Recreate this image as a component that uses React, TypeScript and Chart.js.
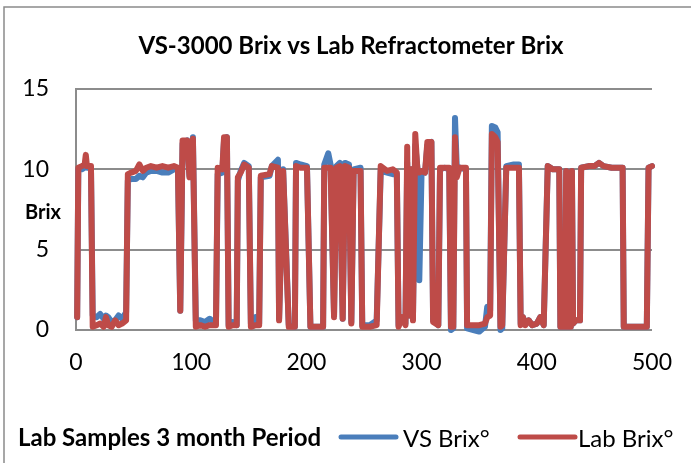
import { useEffect, useRef } from "react";
import { Chart, registerables } from "chart.js";

Chart.register(...registerables);

// Sample number (x) at each reading breakpoint
const sampleIndex = [
  1, 2, 5, 7.5, 8.5, 9.5, 13, 14.5, 18, 21, 24, 26, 28, 31, 34, 37, 40, 43.5,
  45, 48, 52, 55, 58, 61, 65, 70, 75, 80, 85, 88.5, 90.5, 92.5, 96.5, 98.5, 101.5,
  104, 108, 112, 116, 121.5, 123, 127, 128.5, 131, 132.5, 136, 139.5, 140.5, 143,
  146, 150, 151.8, 156, 159, 160.4, 168, 170, 175.3, 176.3, 179.8, 184.7, 190,
  191, 195, 200.5, 203.5, 214.5, 215.5, 219, 221, 224, 226, 229, 231.5, 233.5,
  237, 239, 241, 247, 248.5, 255, 261, 264.5, 270, 275, 278.5, 280, 283, 286,
  287.5, 289, 291, 292.5, 294.5, 296.5, 298, 300, 303, 305, 308.5, 310, 314.5,
  316, 320, 324, 325.5, 327.5, 329, 330.5, 333, 338.5, 339.5, 345, 350, 355, 357,
  359.5, 361, 364, 366, 368.5, 370, 373.5, 380, 384.5, 386, 388, 390, 393, 396,
  400, 403, 406, 409.5, 414, 419.5, 420.5, 424.5, 425.5, 426.5, 429.5, 430.5,
  431.5, 434, 437.5, 438.5, 445, 450, 454, 458, 465, 474.5, 475.5, 495.5, 497, 500,
];

// VS-3000 inline Brix readings
const vsBrix = [
  0.8, 10.0, 10.0, 10.1, 10.3, 10.1, 10.1, 0.9, 0.8, 1.0, 0.7, 0.9, 0.8, 0.5, 0.6, 0.9, 0.7, 1.1,
  9.3, 9.4, 9.4, 9.6, 9.5, 9.8, 9.9, 9.9, 9.8, 9.8, 10.0, 10.0, 1.2, 11.6, 11.8, 9.6, 12.0,
  0.6, 0.6, 0.5, 0.7, 0.4, 9.7, 9.8, 11.8, 12.0, 0.3, 0.5, 0.3, 9.3, 9.9,
  10.4, 10.2, 0.4, 0.8, 0.4, 9.5, 9.6, 10.2, 10.6, 0.7, 10.0, 0.3, 0.2,
  10.4, 10.3, 10.2, 0.2, 0.2, 10.3, 11.0, 10.3, 0.9, 10.2, 10.4, 0.7, 10.4,
  10.3, 0.5, 10.0, 10.1, 0.3, 0.3, 0.6, 9.9, 9.8, 9.7, 9.7, 0.3, 0.7, 0.4,
  10.4, 0.9, 10.0, 0.7, 11.5, 10.0, 3.1, 9.9, 9.8, 11.5, 11.7, 0.6, 0.3,
  10.0, 10.1, 10.0, 0.0, 0.1, 13.2, 10.2, 10.1, 10.0, 0.1, 0.0, -0.1, 0.2, 1.45,
  1.2, 12.7, 12.6, 12.3, 0.0, 0.1, 10.2, 10.3, 10.3, 0.4, 0.8, 0.4, 0.6, 0.3,
  0.4, 0.8, 0.3, 10.2, 10.0, 10.0, 0.2, 0.2, 9.9, 0.2, 0.2, 9.9,
  0.4, 0.6, 0.6, 10.1, 10.2, 10.2, 10.4, 10.2, 10.1, 10.1, 0.2, 0.2, 10.1, 10.2,
];

// Lab refractometer Brix readings
const labBrix = [
  0.8, 10.1, 10.2, 10.3, 10.9, 10.2, 10.2, 0.2, 0.3, 0.4, 0.2, 0.8, 0.3, 0.2, 0.6, 0.3, 0.4, 0.6,
  9.7, 9.8, 9.9, 10.3, 9.9, 10.1, 10.2, 10.1, 10.2, 10.1, 10.2, 10.1, 1.2, 11.8, 11.8, 9.5, 11.9,
  0.2, 0.3, 0.2, 0.3, 0.3, 10.1, 10.0, 12.0, 12.0, 0.2, 0.3, 0.3, 9.5, 9.8,
  10.3, 10.1, 0.2, 0.3, 0.3, 9.6, 9.7, 10.2, 10.1, 0.6, 9.9, 0.2, 0.2,
  10.2, 10.1, 10.1, 0.2, 0.2, 10.1, 10.1, 10.1, 0.8, 10.1, 10.2, 0.7, 10.2,
  10.1, 0.4, 9.9, 9.9, 0.2, 0.2, 0.3, 10.2, 9.9, 10.0, 9.8, 0.2, 0.8, 0.3,
  11.4, 0.9, 10.0, 0.6, 12.2, 9.8, 9.8, 9.9, 9.8, 11.7, 11.7, 0.5, 0.3,
  10.1, 10.1, 10.1, 0.2, 0.2, 12.0, 9.5, 10.1, 10.1, 0.3, 0.3, 0.3, 0.4, 0.8,
  0.9, 12.2, 12.0, 11.7, 0.2, 0.3, 10.1, 10.1, 10.1, 0.3, 0.8, 0.3, 0.6, 0.3,
  0.4, 0.8, 0.3, 10.2, 10.0, 10.0, 0.2, 0.2, 9.9, 0.2, 0.2, 9.9,
  0.4, 0.6, 0.6, 10.1, 10.2, 10.2, 10.4, 10.2, 10.1, 10.1, 0.2, 0.2, 10.1, 10.2,
];

const seriesNames = ["VS Brix°", "Lab Brix°"];
const seriesColors = ["#4A7EBB", "#BE4B48"];
const chartTitle = "VS-3000 Brix vs Lab Refractometer Brix";
const yAxisTitle = "Brix";
const xAxisTitle = "Lab Samples 3 month Period";

const FONT = "Lato, 'Liberation Sans', sans-serif";
const GRID = "#8c8c8c";

const decor = {
  id: "decor",
  afterDraw(chart: any) {
    const ctx = chart.ctx as CanvasRenderingContext2D;
    ctx.save();
    // outer chart border
    ctx.strokeStyle = "#8a8a8a";
    ctx.lineWidth = 1.5;
    ctx.strokeRect(4, 7, 900, 900);
    ctx.fillStyle = "#000";
    ctx.textBaseline = "middle";
    // title
    ctx.font = `bold 24px ${FONT}`;
    ctx.textAlign = "center";
    ctx.fillText(chartTitle, 351, 46);
    // y axis title
    ctx.font = `bold 20px ${FONT}`;
    ctx.fillText(yAxisTitle, 43, 213);
    // x axis title
    ctx.textAlign = "left";
    ctx.font = `bold 24px ${FONT}`;
    ctx.fillText(xAxisTitle, 18, 438);
    // legend
    const items = [
      { x0: 341, x1: 396, tx: 403 },
      { x0: 520, x1: 575, tx: 578 },
    ];
    ctx.font = `24px ${FONT}`;
    chart.data.datasets.forEach((ds: any, i: number) => {
      const it = items[i];
      ctx.strokeStyle = ds.borderColor;
      ctx.lineWidth = 5;
      ctx.lineCap = "round";
      ctx.beginPath();
      ctx.moveTo(it.x0, 437);
      ctx.lineTo(it.x1, 437);
      ctx.stroke();
      ctx.fillStyle = "#000";
      ctx.fillText(ds.label, it.tx, 439);
    });
    ctx.restore();
  },
};

export default function App() {
  const ref = useRef<HTMLCanvasElement | null>(null);
  useEffect(() => {
    if (!ref.current) return;
    const mk = (ys: number[]) => sampleIndex.map((x, i) => ({ x, y: ys[i] }));
    const chart = new Chart(ref.current, {
      type: "scatter",
      data: {
        datasets: [
          {
            label: seriesNames[0],
            data: mk(vsBrix),
            borderColor: seriesColors[0],
            backgroundColor: seriesColors[0],
            showLine: true,
            pointRadius: 0,
            borderWidth: 6,
            borderJoinStyle: "round",
            borderCapStyle: "round",
            order: 1,
            clip: 10,
          },
          {
            label: seriesNames[1],
            data: mk(labBrix),
            borderColor: seriesColors[1],
            backgroundColor: seriesColors[1],
            showLine: true,
            pointRadius: 0,
            borderWidth: 6,
            borderJoinStyle: "round",
            borderCapStyle: "round",
            order: 0,
            clip: 10,
          },
        ],
      },
      options: {
        animation: false,
        responsive: false,
        layout: { padding: { left: 0, right: 31, top: 89, bottom: 83 } },
        plugins: {
          legend: { display: false },
          title: { display: false },
          tooltip: { enabled: false },
        },
        scales: {
          x: {
            type: "linear",
            min: 0,
            max: 500,
            ticks: { stepSize: 100, color: "#000", font: { family: FONT, size: 23 }, padding: 19, maxRotation: 0 },
            grid: { display: false, drawTicks: false },
            border: { display: true, color: GRID, width: 2 },
            afterFit: (s: any) => { s.height = 50; },
          },
          y: {
            min: 0,
            max: 15,
            ticks: { stepSize: 5, color: "#000", font: { family: FONT, size: 23 }, padding: 27 },
            grid: { color: GRID, lineWidth: 2, drawTicks: false },
            border: { display: true, color: GRID, width: 2 },
            afterFit: (s: any) => { s.width = 76; },
          },
        },
      },
      plugins: [decor],
    });
    return () => chart.destroy();
  }, []);
  return (
    <div style={{ position: "fixed", left: 0, top: 0, width: 691, height: 463, background: "#fff" }}>
      <canvas ref={ref} width={691} height={463} />
    </div>
  );
}
